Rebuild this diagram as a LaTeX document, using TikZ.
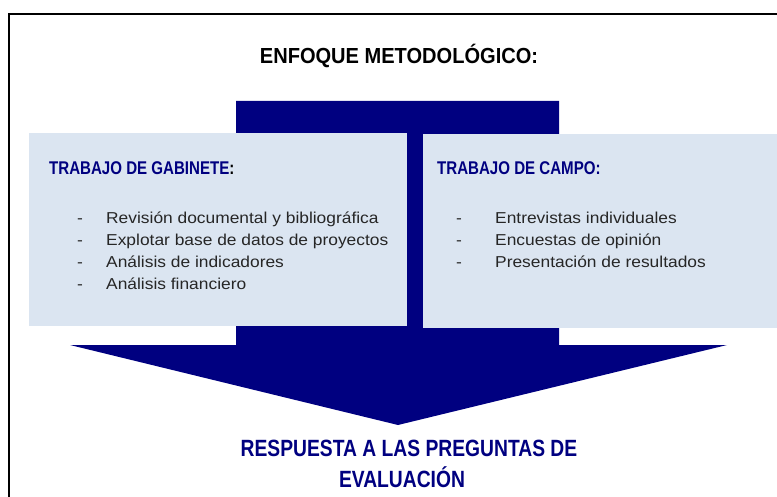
\documentclass[tikz,border=0pt]{standalone}
\usepackage{fontspec}
\setmainfont{Liberation Sans}
\newfontfamily\narrowfont{Liberation Sans}[FakeStretch=0.82]
\newfontfamily\semifont{Liberation Sans}[FakeStretch=0.92]
\newfontfamily\bodyfont{Liberation Sans}[FakeStretch=1.1]
\definecolor{navy}{RGB}{0,0,128}
\definecolor{boxfill}{RGB}{219,229,241}
\tikzset{
  panel/.style={draw=none, fill=boxfill, rectangle, inner sep=0pt},
  title/.style={anchor=base, inner sep=0pt, font=\semifont\bfseries\fontsize{21.8}{24}\selectfont, text=black},
  heading/.style={anchor=base west, inner sep=0pt, font=\narrowfont\bfseries\fontsize{18.4}{20}\selectfont, text=navy},
  result/.style={anchor=base, inner sep=0pt, font=\narrowfont\bfseries\fontsize{23.5}{26}\selectfont, text=navy},
  item/.style={anchor=base west, inner sep=0pt, font=\bodyfont\fontsize{15.8}{18}\selectfont, text=black!85},
  frame/.style={line width=2pt, draw=black}
}
\begin{document}
\begin{tikzpicture}[x=1pt, y=-1pt]
\useasboundingbox (0,0) rectangle (777,497);
\clip (0,0) rectangle (777,497);
% frame
\coordinate (fbl) at (9,500);
\coordinate (ftl) at (9,14);
\coordinate (ftr) at (780,14);
\draw[frame] (fbl) -- (ftl) -- (ftr);
% title
\node[title] (title) at (399,64) {ENFOQUE METODOLÓGICO:};
% big arrow
\coordinate (s1) at (236,101);
\coordinate (s2) at (559,101);
\coordinate (s3) at (559,345);
\coordinate (h1) at (727,345);
\coordinate (tip) at (398,425);
\coordinate (h2) at (70,345);
\coordinate (s4) at (236,345);
\fill[navy] (s1) -- (s2) -- (s3) -- (h1) -- (tip) -- (h2) -- (s4) -- cycle;
% panels
\node[panel, minimum width=378pt, minimum height=193pt] (left) at (218,229.5) {};
\node[panel, minimum width=360pt, minimum height=194pt] (right) at (603,231) {};
% left content
\node[heading] (lh) at (49,175) {TRABAJO DE GABINETE\textcolor{black}{:}};
\node[item] (ld1) at (77,224) {-};
\node[item] (lt1) at (106,224) {Revisión documental y bibliográfica};
\node[item] (ld2) at (77,246) {-};
\node[item] (lt2) at (106,246) {Explotar base de datos de proyectos};
\node[item] (ld3) at (77,268) {-};
\node[item] (lt3) at (106,268) {Análisis de indicadores};
\node[item] (ld4) at (77,290) {-};
\node[item] (lt4) at (106,290) {Análisis financiero};
% right content
\node[heading] (rh) at (437,175) {TRABAJO DE CAMPO:};
\node[item] (rd1) at (456,224) {-};
\node[item] (rt1) at (495,224) {Entrevistas individuales};
\node[item] (rd2) at (456,246) {-};
\node[item] (rt2) at (495,246) {Encuestas de opinión};
\node[item] (rd3) at (456,268) {-};
\node[item] (rt3) at (495,268) {Presentación de resultados};
% result
\node[result] (r1) at (409,456) {RESPUESTA A LAS PREGUNTAS DE};
\node[result] (r2) at (402,487) {EVALUACIÓN};
\end{tikzpicture}
\end{document}
